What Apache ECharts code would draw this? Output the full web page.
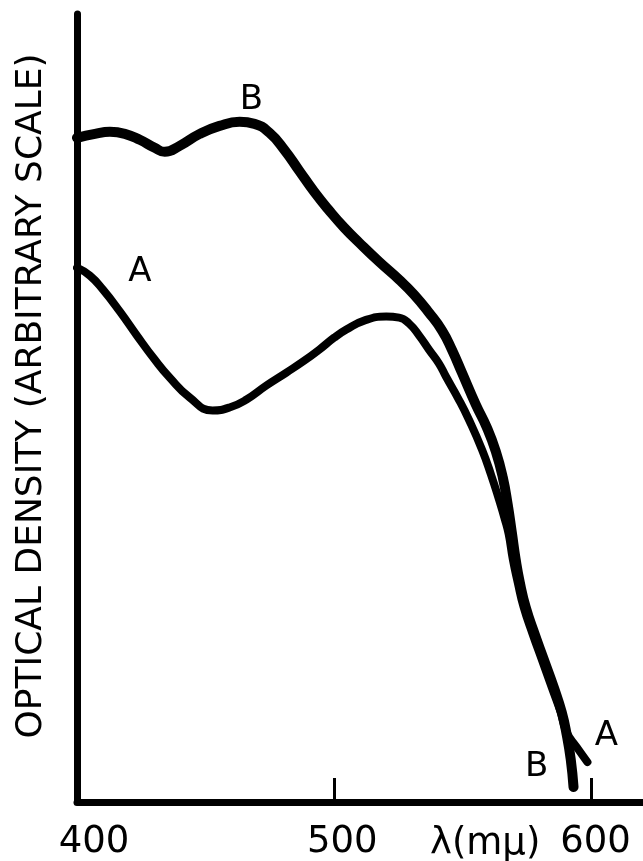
<!DOCTYPE html>
<html><head><meta charset="utf-8">
<script src="https://cdn.jsdelivr.net/npm/echarts@6/dist/echarts.min.js"></script>
<style>html,body{margin:0;padding:0;background:#fff}#c{width:643px;height:861px}</style>
</head><body><div id="c"></div>
<script>
// Curve A (wavelength in mμ, optical density, arbitrary units)
const curveA_x = [400, 405.0, 410.1, 416.7, 423.3, 430.2, 436.0, 443.8, 452.7, 459.3, 465.9, 473.6, 481.4, 488.4, 494.2, 500.0, 504.7, 511.6, 520.2, 525.2, 529.1, 533.0, 536.8, 540.7, 543.4, 548.4, 552.3, 557.4, 560.9, 564.0, 566.3, 567.8, 569.4, 571.3, 573.6, 577.1, 580.6, 584.5, 588.0, 590.3, 594.2, 598.4];
const curveA_y = [535, 527, 513, 491, 467, 443, 425, 405, 392, 395, 403, 417, 430, 442, 453, 465, 473, 482, 486, 485, 479, 467, 453, 439, 426, 403, 383, 353, 328, 303, 283, 268, 243, 220, 195, 168, 143, 115, 90, 70, 55, 40];
// Curve B
const curveB_x = [400, 407.0, 412.8, 418.6, 424.4, 430.2, 434.1, 439.9, 447.7, 455.4, 463.2, 469.0, 474.8, 480.6, 486.4, 492.2, 498.1, 503.9, 509.7, 517.4, 525.2, 531.0, 536.8, 541.9, 545.7, 549.6, 555.0, 559.3, 562.8, 565.5, 567.4, 569.0, 570.5, 572.1, 574.4, 577.9, 581.4, 585.3, 588.4, 590.3, 591.9, 593.0];
const curveB_y = [665, 669, 671, 669, 663, 655, 651, 657, 669, 677, 681, 679, 670, 653, 632, 611, 592, 575, 560, 541, 523, 508, 490, 472, 453, 430, 398, 375, 351, 325, 298, 270, 243, 220, 195, 168, 143, 115, 90, 68, 43, 15];
// Tick labels and tick marks
const xTickLabels = ['400', '500', '600'];
const xTickMarks = [500, 600];
// Curve label anchors [x, y]
const labelA1 = [424.4, 531];
const labelB1 = [467.8, 703];
const labelA2 = [605.8, 66];
const labelB2 = [578.7, 35];

const zip = (xs, ys) => xs.map((x, i) => [x, ys[i]]);
const FONT = 'DejaVu Sans';
const lblStyle = {fontSize: 34, color: '#000', fontFamily: FONT};

function mp(name, coord) {
  return {name: name, coord: coord, symbol: 'circle', symbolSize: 1,
    itemStyle: {color: 'rgba(0,0,0,0)'},
    label: Object.assign({show: true, position: 'inside', formatter: name}, lblStyle)};
}

const chart = echarts.init(document.getElementById('c'), null, {renderer: 'canvas'});
chart.setOption({
  animation: false,
  backgroundColor: '#fff',
  grid: {left: 77, right: 0, top: 14, bottom: 58, containLabel: false},
  xAxis: {
    type: 'value', min: 400, max: 620, interval: 100,
    axisLine: {show: true, lineStyle: {color: '#000', width: 7}},
    axisTick: {show: true, inside: true, length: 24, customValues: xTickMarks, lineStyle: {color: '#000', width: 3}},
    splitLine: {show: false},
    axisLabel: {
      margin: 22, fontSize: 37, color: '#000', fontFamily: FONT,
      customValues: xTickLabels.map(Number),
      formatter: function (v) {
        const s = String(v);
        const i = xTickLabels.indexOf(s);
        return i < 0 ? '' : '{t' + i + '|' + s + '}';
      },
      rich: {
        t0: {fontSize: 37, fontFamily: FONT, color: '#000', padding: [0, 0, 0, 34]},
        t1: {fontSize: 37, fontFamily: FONT, color: '#000', padding: [0, 0, 0, 16]},
        t2: {fontSize: 37, fontFamily: FONT, color: '#000', padding: [0, 0, 0, 8]}
      }
    }
  },
  yAxis: {
    type: 'value', min: 0, max: 789,
    axisLine: {show: true, lineStyle: {color: '#000', width: 7}},
    axisTick: {show: false}, axisLabel: {show: false}, splitLine: {show: false},
    name: 'OPTICAL DENSITY (ARBITRARY SCALE)',
    nameLocation: 'middle', nameGap: 27,
    nameTextStyle: {fontSize: 36, color: '#000', fontFamily: FONT, padding: [0, 0, 0, 24]}
  },
  graphic: [{
    type: 'text', left: 430, top: 826,
    style: {text: 'λ(mμ)', fontSize: 37, fill: '#000', fontFamily: FONT}
  }],
  series: [
    {
      name: 'A', type: 'line', data: zip(curveA_x, curveA_y),
      smooth: 0.5, showSymbol: false, symbol: 'none',
      lineStyle: {color: '#000', width: 8, cap: 'round', join: 'round'},
      markPoint: {data: [mp('A', labelA1), mp('A', labelA2)]}
    },
    {
      name: 'B', type: 'line', data: zip(curveB_x, curveB_y),
      smooth: 0.5, showSymbol: false, symbol: 'none',
      lineStyle: {color: '#000', width: 10, cap: 'round', join: 'round'},
      markPoint: {data: [mp('B', labelB1), mp('B', labelB2)]}
    }
  ]
});
</script></body></html>
